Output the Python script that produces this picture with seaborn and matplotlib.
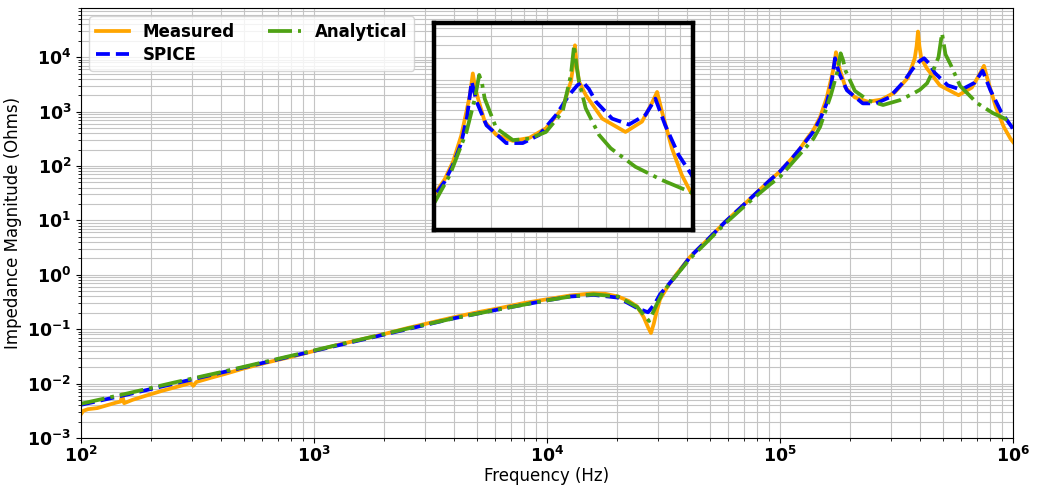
import numpy as np
import pandas as pd
import matplotlib
matplotlib.use("Agg")
import matplotlib.pyplot as plt
import seaborn as sns

# ---- data (decade exponents: log10 f [Hz], log10 |Z| [Ohm]) ----
measured_f_exp = [2.000, 2.010, 2.030, 2.070, 2.110, 2.150, 2.170, 2.176, 2.185, 2.220,
                  2.280, 2.350, 2.420, 2.470, 2.482, 2.495, 2.560, 2.620, 2.700, 2.800,
                  2.900, 3.000, 3.100, 3.200, 3.300, 3.400, 3.500, 3.600, 3.700, 3.800,
                  3.900, 4.000, 4.100, 4.197, 4.250, 4.305, 4.350, 4.386, 4.415, 4.435,
                  4.446, 4.458, 4.470, 4.485, 4.520, 4.557, 4.614, 4.690, 4.764, 4.860,
                  4.957, 5.000, 5.057, 5.086, 5.110, 5.143, 5.172, 5.200, 5.215, 5.230,
                  5.240, 5.248, 5.258, 5.281, 5.321, 5.378, 5.435, 5.492, 5.549, 5.578,
                  5.586, 5.592, 5.598, 5.606, 5.629, 5.686, 5.766, 5.823, 5.857, 5.875,
                  5.892, 5.926, 5.960, 5.989, 6.000]
measured_z_exp = [-2.56, -2.50, -2.47, -2.45, -2.40, -2.35, -2.33, -2.20, -2.36, -2.30,
                  -2.22, -2.13, -2.05, -1.99, -2.04, -1.97, -1.89, -1.82, -1.72, -1.61,
                  -1.51, -1.40, -1.29, -1.19, -1.09, -0.98, -0.88, -0.78, -0.69, -0.61,
                  -0.52, -0.45, -0.38, -0.34, -0.35, -0.40, -0.48, -0.58, -0.78, -0.98,
                  -1.07, -0.90, -0.68, -0.45, -0.20, 0.02, 0.33, 0.65, 0.97, 1.35,
                  1.74, 1.90, 2.17, 2.32, 2.47, 2.66, 2.90, 3.25, 3.52, 3.80,
                  4.09, 3.90, 3.75, 3.44, 3.26, 3.18, 3.22, 3.35, 3.62, 3.98,
                  4.20, 4.47, 4.20, 3.98, 3.80, 3.48, 3.30, 3.44, 3.69, 3.84,
                  3.57, 3.08, 2.72, 2.50, 2.44]

spice_f_exp = [2.000, 2.200, 2.400, 2.600, 2.800, 3.000, 3.200, 3.400, 3.600, 3.800,
               4.000, 4.100, 4.200, 4.305, 4.386, 4.433, 4.460, 4.485, 4.557, 4.614,
               4.690, 4.764, 4.860, 4.957, 5.000, 5.057, 5.086, 5.110, 5.143, 5.172,
               5.200, 5.220, 5.236, 5.253, 5.287, 5.355, 5.412, 5.469, 5.527, 5.572,
               5.600, 5.618, 5.640, 5.664, 5.720, 5.778, 5.835, 5.869, 5.903, 5.949,
               5.994, 6.000]
spice_z_exp = [-2.39, -2.20, -2.00, -1.80, -1.60, -1.40, -1.20, -1.00, -0.80, -0.63,
               -0.47, -0.40, -0.37, -0.42, -0.61, -0.69, -0.55, -0.36, 0.00, 0.33,
               0.65, 0.97, 1.35, 1.74, 1.90, 2.17, 2.32, 2.45, 2.63, 2.86,
               3.15, 3.50, 3.98, 3.71, 3.39, 3.15, 3.15, 3.26, 3.53, 3.80,
               3.93, 3.98, 3.88, 3.71, 3.48, 3.40, 3.53, 3.75, 3.39, 2.99,
               2.72, 2.67]

analytical_f_exp = [2.000, 2.200, 2.400, 2.600, 2.800, 3.000, 3.200, 3.400, 3.600, 3.800,
                    4.000, 4.100, 4.200, 4.305, 4.386, 4.438, 4.470, 4.500, 4.557, 4.614,
                    4.690, 4.764, 4.860, 4.957, 5.000, 5.057, 5.086, 5.143, 5.172, 5.218,
                    5.247, 5.260, 5.270, 5.281, 5.321, 5.380, 5.442, 5.515, 5.571, 5.600,
                    5.631, 5.658, 5.680, 5.695, 5.710, 5.730, 5.773, 5.844, 5.914, 6.000]
analytical_z_exp = [-2.37, -2.18, -1.98, -1.79, -1.59, -1.39, -1.19, -0.99, -0.80, -0.63,
                    -0.47, -0.40, -0.36, -0.40, -0.59, -0.85, -0.55, -0.30, 0.00, 0.30,
                    0.62, 0.94, 1.31, 1.66, 1.80, 2.08, 2.22, 2.50, 2.72, 3.30,
                    3.75, 4.07, 3.95, 3.75, 3.38, 3.20, 3.12, 3.21, 3.33, 3.40,
                    3.52, 3.76, 4.00, 4.44, 4.05, 3.88, 3.47, 3.16, 2.97, 2.80]

analytical_inset_f_exp = [5.100, 5.110, 5.161, 5.218, 5.247, 5.262, 5.272, 5.281, 5.321, 5.378,
                          5.435, 5.492, 5.549, 5.578, 5.589, 5.597, 5.606, 5.629, 5.675, 5.715,
                          5.800, 5.892, 5.983, 6.000]
analytical_inset_z_exp = [2.31, 2.36, 2.72, 3.30, 3.75, 4.07, 3.95, 3.75, 3.35, 3.19,
                          3.21, 3.30, 3.57, 4.07, 4.47, 4.20, 3.98, 3.62, 3.26, 3.08,
                          2.83, 2.65, 2.50, 2.47]

series_names = ["Measured", "SPICE", "Analytical"]
series_colors = ["#FFA500", "#0000FF", "#4FA214"]
series_styles = ["-", "--", "-."]


def to_frame(f_exp, z_exp):
    return pd.DataFrame({"freq": np.power(10.0, f_exp), "z": np.power(10.0, z_exp)})


main_data = [to_frame(measured_f_exp, measured_z_exp),
             to_frame(spice_f_exp, spice_z_exp),
             to_frame(analytical_f_exp, analytical_z_exp)]
inset_data = [main_data[0], main_data[1],
              to_frame(analytical_inset_f_exp, analytical_inset_z_exp)]

# ---- figure ----
fig = plt.figure(figsize=(10.43, 4.87), dpi=100)
ax = fig.add_axes([0.0777, 0.1006, 0.8936, 0.8830])
ax.set_xscale("log")
ax.set_yscale("log")

for df, name, col, ls in zip(main_data, series_names, series_colors, series_styles):
    sns.lineplot(data=df, x="freq", y="z", ax=ax, color=col, linestyle=ls,
                 linewidth=2.7, label=name, estimator=None, sort=False)

ax.set_xlim(1e2, 1e6)
ax.set_ylim(1e-3, 8e4)
ax.grid(True, which="both", color="#c4c4c4", linewidth=0.8)
ax.set_axisbelow(True)
ax.set_xlabel("Frequency (Hz)", fontsize=12, labelpad=1)
ax.set_ylabel("Impedance Magnitude (Ohms)", fontsize=12, labelpad=4)
ax.tick_params(axis="both", which="major", labelsize=12.5)
ax.tick_params(axis="x", which="major", pad=2)
for lab in ax.get_xticklabels() + ax.get_yticklabels():
    lab.set_fontweight("bold")

ax.legend(loc="upper left", ncol=2, prop={"weight": "bold", "size": 12},
          columnspacing=2.0, borderpad=0.4, labelspacing=0.3)

# ---- inset ----
axin = ax.inset_axes([0.379, 0.484, 0.278, 0.481])
axin.set_xscale("log")
axin.set_yscale("log")
for df, col, ls in zip(inset_data, series_colors, series_styles):
    sns.lineplot(data=df, x="freq", y="z", ax=axin, color=col, linestyle=ls,
                 linewidth=2.7, legend=False, estimator=None, sort=False)
axin.set_xlim(1.28e5, 1e6)
axin.set_ylim(95, 5.9e4)
axin.grid(True, which="both", color="#c4c4c4", linewidth=0.8)
axin.set_axisbelow(True)
axin.set_xlabel("")
axin.set_ylabel("")
axin.tick_params(which="both", length=0, labelbottom=False, labelleft=False)
axin.set_facecolor("white")
for sp in axin.spines.values():
    sp.set_linewidth(3.2)
    sp.set_color("black")

fig.savefig("out.png", dpi=100)
